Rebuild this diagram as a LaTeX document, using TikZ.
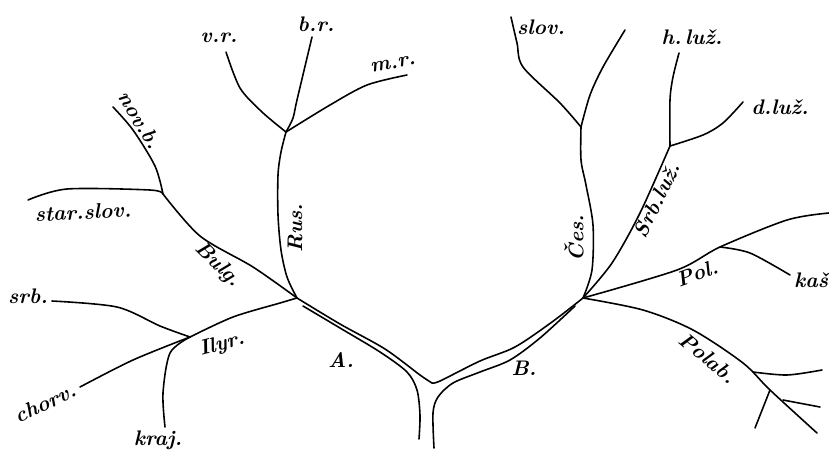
\documentclass[tikz,border=0pt]{standalone}
\usepackage{tikz}
\usetikzlibrary{positioning}
\tikzset{branch/.style={line width=0.9pt, line cap=round},
  lang/.style={font=\large\bfseries\itshape, inner sep=1pt}}

\begin{document}
\begin{tikzpicture}[x=0.02cm,y=-0.02cm]
\useasboundingbox (0,0) rectangle (829,457);
% junctions
\coordinate (jA) at (297,298);
\coordinate (jB) at (583,298);
\coordinate (jRus) at (286,132);
\coordinate (jSlov) at (581,127);
\coordinate (jBulg) at (163,194);
\coordinate (jIlyr) at (190,337);
\coordinate (jLuz) at (670,146);
\coordinate (jKas) at (720,247);
\coordinate (root) at (432,383);

\begin{scope}[branch]
% trunk
\draw plot[smooth] coordinates {(jA) (340,324) (385,349) (420,375) (root)};
\draw plot[smooth] coordinates {(root) (440,381) (480,361) (515,347) (552,322) (jB)};
\draw plot[smooth] coordinates {(303,306) (340,328) (380,352) (407,372) (417,390) (420,415) (419,439)};
\draw plot[smooth] coordinates {(575,306) (540,338) (510,360) (480,372) (453,383) (438,397) (433,413) (434,448)};
% A side
\draw plot[smooth] coordinates {(jA) (287,277) (281,250) (278,215) (278,175) (281,152) (jRus)};
\draw plot[smooth] coordinates {(jRus) (262,112) (240,88) (226,52)};
\draw plot[smooth] coordinates {(jRus) (293,118) (297,100) (312,37)};
\draw plot[smooth] coordinates {(jRus) (330,105) (367,85) (407,75)};
\draw plot[smooth] coordinates {(jA) (253,267) (200,236) (jBulg)};
\draw plot[smooth] coordinates {(jBulg) (155,166) (133,130) (113,107)};
\draw plot[smooth] coordinates {(jBulg) (150,190) (67,189) (28,200)};
\draw plot[smooth] coordinates {(jA) (280,303) (233,317) (jIlyr)};
\draw plot[smooth] coordinates {(jIlyr) (160,326) (117,307) (52,301)};
\draw plot[smooth] coordinates {(jIlyr) (133,360) (80,387)};
\draw plot[smooth] coordinates {(jIlyr) (170,353) (163,393) (165,427)};
% B side
\draw plot[smooth] coordinates {(jB) (592,270) (593,225) (586,185) (581,160) (jSlov)};
\draw plot[smooth] coordinates {(jSlov) (560,103) (523,67) (517,43) (511,17)};
\draw plot[smooth] coordinates {(jSlov) (590,95) (603,67) (625,30)};
\draw plot[smooth] coordinates {(jB) (612,263) (640,213) (jLuz)};
\draw plot[smooth] coordinates {(jLuz) (670,100) (673,77) (679,53)};
\draw plot[smooth] coordinates {(jLuz) (703,135) (723,123) (743,102)};
\draw plot[smooth] coordinates {(jB) (677,270) (jKas) (787,220) (829,213)};
\draw plot[smooth] coordinates {(jKas) (750,253) (790,275)};
\draw plot[smooth] coordinates {(jB) (643,310) (693,330) (743,363) (770,390) (817,433)};
\draw plot[smooth] coordinates {(753,372) (787,375) (822,370)};
\draw plot[smooth] coordinates {(770,390) (755,428)};
\draw plot[smooth] coordinates {(783,400) (820,407)};
\end{scope}

% labels
\node[lang] (vr) at (219,38) {v.r.};
\node[lang] (br) at (316,24) {b.r.};
\node[lang,rotate=10] (mr) at (393,64) {m.r.};
\node[lang,rotate=-58] (novb) at (140,120) {nov.b.};
\node[lang,rotate=3] (starslov) at (83,212) {star.slov.};
\node[lang,rotate=-45] (bulg) at (218,265) {Bulg.};
\node[lang,rotate=90] (rus) at (295,228) {Rus.};
\node[lang] (srb) at (28,296) {srb.};
\node[lang,rotate=15] (ilyr) at (222,345) {Ilyr.};
\node[lang,rotate=25] (chorv) at (45,403) {chorv.};
\node[lang] (kraj) at (158,440) {kraj.};
\node[lang] (A) at (341,360) {A.};
\node[lang] (B) at (524,368) {B.};
\node[lang] (slov) at (541,27) {slov.};
\node[lang,rotate=90] (ces) at (574,238) {Čes.};
\node[lang] (hluz) at (692,37) {h.\,luž.};
\node[lang] (dluz) at (780,107) {d.luž.};
\node[lang,rotate=64] (srbluz) at (657,200) {Srb.luž.};
\node[lang,rotate=20] (pol) at (697,273) {Pol.};
\node[lang,anchor=west] (kas) at (792,280) {kaš};
\node[lang,rotate=-40] (polab) at (708,358) {Polab.};
\end{tikzpicture}
\end{document}
